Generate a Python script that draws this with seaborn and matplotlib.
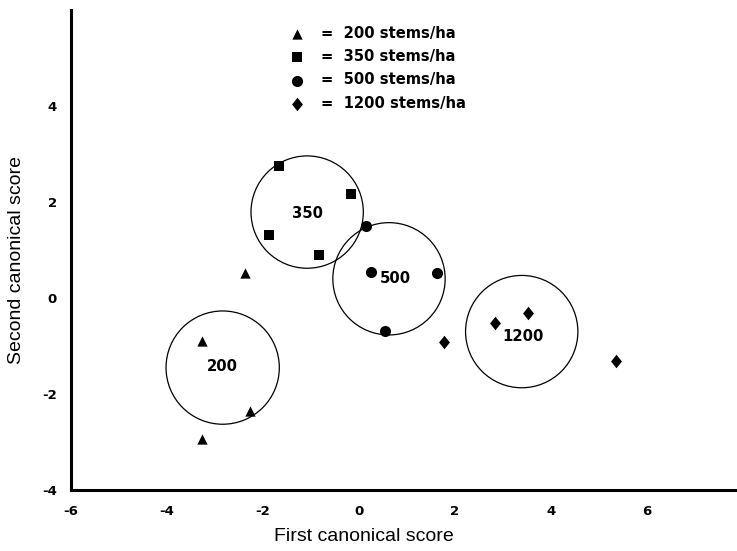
import seaborn as sns
import pandas as pd
import numpy as np
import matplotlib.pyplot as plt
from matplotlib.patches import Circle

# --- data ---
groups = ["200", "350", "500", "1200"]
legend_labels = ["=  200 stems/ha", "=  350 stems/ha", "=  500 stems/ha", "=  1200 stems/ha"]

x200 = [-2.37, -3.27, -2.28, -3.27]
y200 = [0.53, -0.89, -2.36, -2.94]
x350 = [-1.67, -0.17, -1.88, -0.83]
y350 = [2.76, 2.17, 1.31, 0.89]
x500 = [0.15, 0.26, 1.62, 0.55]
y500 = [1.50, 0.54, 0.53, -0.68]
x1200 = [1.77, 2.84, 3.53, 5.35]
y1200 = [-0.91, -0.53, -0.31, -1.31]

# group circles: centre x, centre y, radius
circle_x = [-2.84, -1.08, 0.625, 3.39]
circle_y = [-1.45, 1.79, 0.40, -0.70]
circle_r = [1.18, 1.17, 1.17, 1.17]

# where the group numbers are written
text_x = [-2.85, -1.07, 0.75, 3.41]
text_y = [-1.42, 1.76, 0.40, -0.81]

x_ticks = [-6, -4, -2, 0, 2, 4, 6]
y_ticks = [-4, -2, 0, 2, 4]

df = pd.DataFrame({
    "x": x200 + x350 + x500 + x1200,
    "y": y200 + y350 + y500 + y1200,
    "density": ["200"] * 4 + ["350"] * 4 + ["500"] * 4 + ["1200"] * 4,
})

sns.set_style("white")
plt.rcParams['font.family'] = ['Liberation Sans', 'DejaVu Sans']
plt.rcParams['text.color'] = 'black'
plt.rcParams['axes.labelcolor'] = 'black'
plt.rcParams['xtick.color'] = 'black'
plt.rcParams['ytick.color'] = 'black'

fig = plt.figure(figsize=(7.37, 5.51), dpi=100)
ax = fig.add_axes([71 / 737, 61 / 551, 666 / 737, 480 / 551])

diamond = [(0, 1), (0.8, 0), (0, -1), (-0.8, 0)]
markers = {"200": "^", "350": "s", "500": "o", "1200": diamond}
sizes = {"200": 55, "350": 62, "500": 64, "1200": 95}

for g, lab in zip(groups, legend_labels):
    sub = df[df["density"] == g]
    sns.scatterplot(data=sub, x="x", y="y", marker=markers[g], s=sizes[g],
                    color="black", linewidth=0, label=lab, ax=ax, zorder=3)

# circles round each group
for cx, cy, r in zip(circle_x, circle_y, circle_r):
    ax.add_patch(Circle((cx, cy), r, fill=False, edgecolor="black", linewidth=0.9, zorder=2))

for tx, ty, g in zip(text_x, text_y, groups):
    ax.text(tx, ty, g, ha="center", va="center", fontsize=10.7,
            fontweight="bold", family="DejaVu Sans", color="black")

ax.set_xlim(-6, 7.875)
ax.set_ylim(-4, 6)
ax.set_xticks(x_ticks)
ax.set_yticks(y_ticks)
ax.set_xticklabels([str(t) for t in x_ticks], fontweight="bold", family="DejaVu Sans", fontsize=9.5)
ax.set_yticklabels([str(t) for t in y_ticks], fontweight="bold", family="DejaVu Sans", fontsize=9.5)

sns.despine(ax=ax)
for s in ["left", "bottom"]:
    ax.spines[s].set_linewidth(2.2)
    ax.spines[s].set_color("black")
ax.tick_params(axis="both", direction="out", length=6.5, width=2, color="black")
ax.tick_params(axis="x", pad=4)
ax.tick_params(axis="y", pad=3.5)

ax.set_xlabel("First canonical score", fontsize=14)
ax.set_ylabel("Second canonical score", fontsize=14, va="center")
ax.xaxis.set_label_coords((364 - 71) / 666, (490 - 528) / 480)
ax.yaxis.set_label_coords((17 - 71) / 666, (490 - 260) / 480)

leg = ax.legend(loc="upper left", bbox_to_anchor=((290 - 71) / 666, (490 - 26) / 480),
                frameon=False, borderpad=0, borderaxespad=0, handlelength=1.0,
                handletextpad=1.1, labelspacing=0.56, labelcolor="black",
                prop={"family": "DejaVu Sans", "weight": "bold", "size": 10.6})

fig.savefig("out.png", dpi=100)
